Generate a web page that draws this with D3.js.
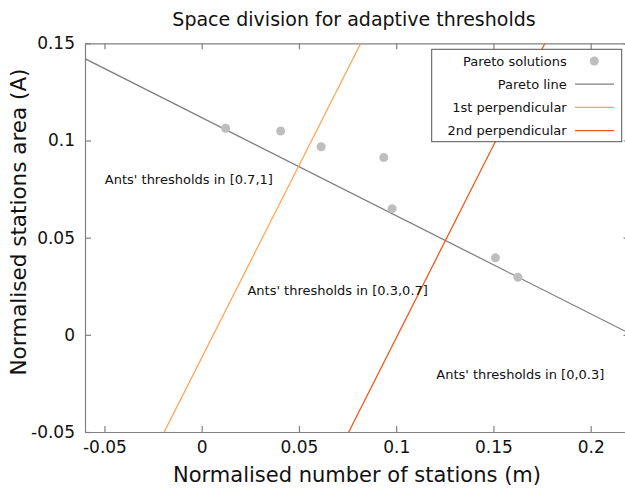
<!DOCTYPE html>
<html><head><meta charset="utf-8">
<script src="https://cdn.jsdelivr.net/npm/d3@7"></script>
<style>body{margin:0;background:#fff;}svg{display:block;font-family:"DejaVu Sans",sans-serif;}</style>
</head><body>
<svg id="c" width="625" height="488"></svg>
<script>
// Data
const paretoX = [0.0123, 0.0406, 0.0614, 0.0936, 0.0979, 0.151, 0.1626];
const paretoY = [0.1063, 0.1049, 0.0968, 0.0912, 0.0649, 0.0396, 0.0296];
const paretoLineX = [-0.06, 0.22];
const paretoLineY = [0.1421, 0.0007];
const perp1X = [-0.0193, 0.0818];
const perp1Y = [-0.05, 0.15];
const perp2X = [0.0756, 0.1765];
const perp2Y = [-0.05, 0.15];
const xTicks = [-0.05, 0, 0.05, 0.1, 0.15, 0.2];
const yTicks = [-0.05, 0, 0.05, 0.1, 0.15];
const labelTexts = ["Ants' thresholds in [0.7,1]", "Ants' thresholds in [0.3,0.7]", "Ants' thresholds in [0,0.3]"];
const labelX = [-0.0498, 0.0235, 0.1206];
const labelY = [0.0797, 0.0226, -0.0206];
const legendNames = ["Pareto solutions", "Pareto line", "1st perpendicular", "2nd perpendicular"];

const svg = d3.select("#c");
const L = 85, R = 629.6, T = 43.3, B = 432;
const x = d3.scaleLinear().domain([-0.06, 0.22]).range([L, R]);
const y = d3.scaleLinear().domain([-0.05, 0.15]).range([B, T]);
const borderCol = "#808080";
const fmt = d => d === 0 ? "0" : String(d);

// Clip
svg.append("defs").append("clipPath").attr("id","clip")
  .append("rect").attr("x",L).attr("y",T).attr("width",R-L).attr("height",B-T);

// Axes (ticks inward, mirrored)
const tl = 6;
const gxb = svg.append("g").attr("transform",`translate(0,${B})`)
  .call(d3.axisBottom(x).tickValues(xTicks).tickSizeInner(-tl).tickSizeOuter(0).tickPadding(9).tickFormat(fmt));
const gxt = svg.append("g").attr("transform",`translate(0,${T})`)
  .call(d3.axisTop(x).tickValues(xTicks).tickSizeInner(-tl).tickSizeOuter(0).tickFormat(""));
const gyl = svg.append("g").attr("transform",`translate(${L},0)`)
  .call(d3.axisLeft(y).tickValues(yTicks).tickSizeInner(-tl).tickSizeOuter(0).tickPadding(10).tickFormat(fmt));
const gyr = svg.append("g").attr("transform",`translate(${R},0)`)
  .call(d3.axisRight(y).tickValues(yTicks).tickSizeInner(-tl).tickSizeOuter(0).tickFormat(""));
[gxb,gxt,gyl,gyr].forEach(g=>{
  g.selectAll("path.domain").attr("stroke",borderCol).attr("stroke-width",1.2);
  g.selectAll(".tick line").attr("stroke",borderCol).attr("stroke-width",1.2);
  g.selectAll("text").attr("fill","#111").style("font-size","17px").style("font-family","DejaVu Sans");
});
gxb.selectAll("text").attr("dy","0.71em");

// Plot content
const pc = svg.append("g").attr("clip-path","url(#clip)");
const line = d3.line().x(d=>x(d[0])).y(d=>y(d[1]));
pc.append("path").datum(d3.zip(paretoLineX, paretoLineY)).attr("d",line)
  .attr("fill","none").attr("stroke","#808080").attr("stroke-width",1.3);
pc.append("path").datum(d3.zip(perp1X, perp1Y)).attr("d",line)
  .attr("fill","none").attr("stroke","#ffa552").attr("stroke-width",1.3);
pc.append("path").datum(d3.zip(perp2X, perp2Y)).attr("d",line)
  .attr("fill","none").attr("stroke","#f05a1a").attr("stroke-width",1.3);
pc.selectAll("circle.p").data(d3.zip(paretoX, paretoY)).join("circle")
  .attr("cx",d=>x(d[0])).attr("cy",d=>y(d[1])).attr("r",4.5).attr("fill","#bebebe");

// Annotations
svg.selectAll("text.ann").data(labelTexts).join("text").attr("class","ann")
  .attr("x",(d,i)=>x(labelX[i])).attr("y",(d,i)=>y(labelY[i])).attr("dy","0.35em")
  .style("font-size","13px").attr("fill","#111").text(d=>d);

// Legend
const lg = svg.append("g");
lg.append("rect").attr("x",431.7).attr("y",49.3).attr("width",190).attr("height",92.4)
  .attr("fill","#fff").attr("stroke","#555").attr("stroke-width",1);
const legCols = ["#bebebe","#808080","#ffa552","#f05a1a"];
legendNames.forEach((n,i)=>{
  const yy = 61 + i*23.2;
  lg.append("text").attr("x",566.7).attr("y",yy).attr("dy","0.35em").attr("text-anchor","end")
    .style("font-size","13px").attr("fill","#111").text(n);
  if (i===0) lg.append("circle").attr("cx",594.3).attr("cy",yy).attr("r",4.5).attr("fill",legCols[i]);
  else lg.append("line").attr("x1",575).attr("x2",614).attr("y1",yy).attr("y2",yy)
    .attr("stroke",legCols[i]).attr("stroke-width",1.3);
});

// Titles
svg.append("text").attr("x",354).attr("y",26).attr("text-anchor","middle")
  .style("font-size","19px").attr("fill","#111").text("Space division for adaptive thresholds");
svg.append("text").attr("x",357).attr("y",482).attr("text-anchor","middle")
  .style("font-size","21px").attr("fill","#111").text("Normalised number of stations (m)");
svg.append("text").attr("transform","translate(26,222) rotate(-90)").attr("text-anchor","middle")
  .style("font-size","21.5px").attr("fill","#111").text("Normalised stations area (A)");
</script>
</body></html>
